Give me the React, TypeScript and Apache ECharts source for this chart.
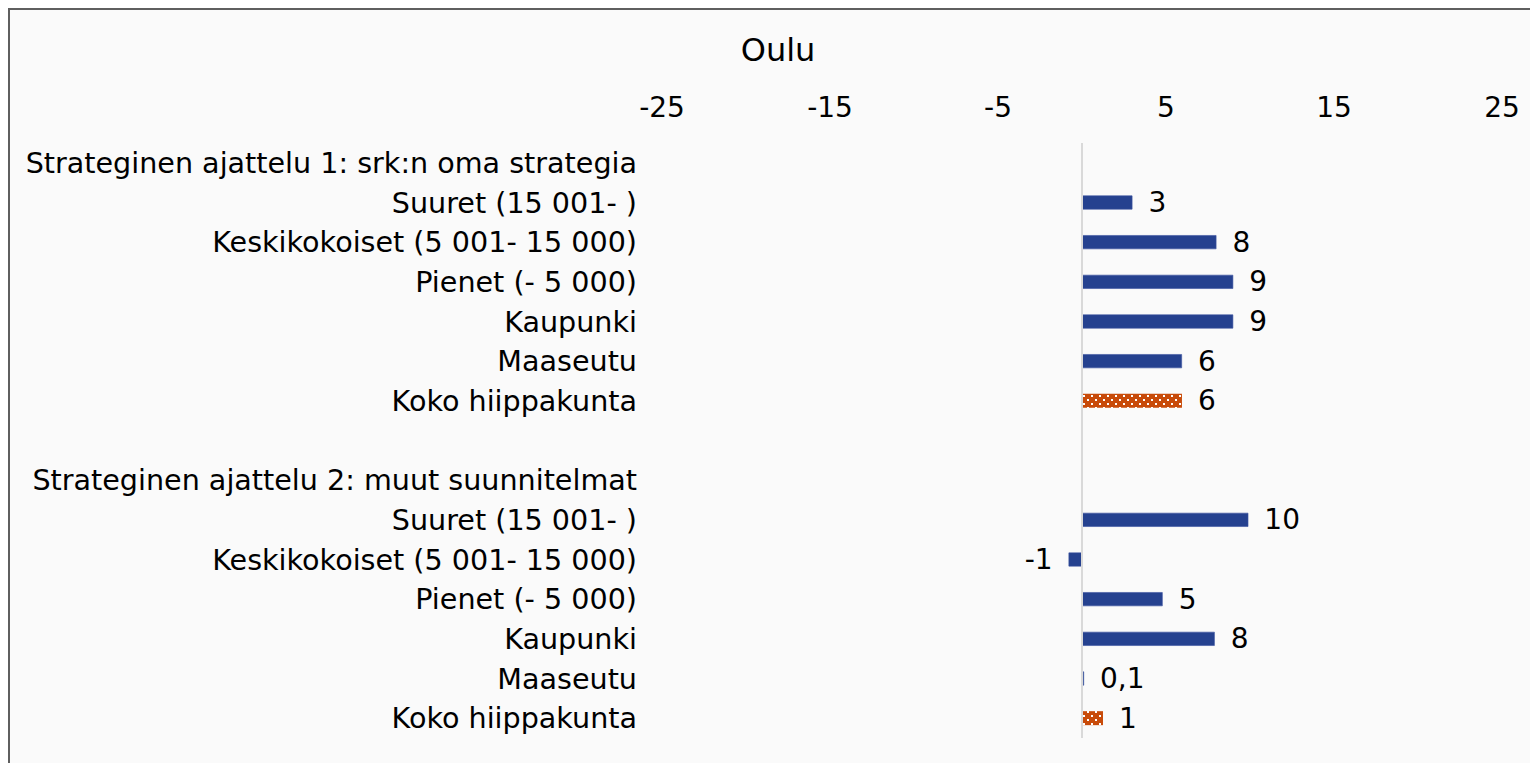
import React, { useEffect, useRef } from "react";
import * as echarts from "echarts";

const chartTitle = "Oulu";
const groupTitles = [
  "Strateginen ajattelu 1: srk:n oma strategia",
  "Strateginen ajattelu 2: muut suunnitelmat",
];
const subCategories = [
  "Suuret (15 001- )",
  "Keskikokoiset (5 001- 15 000)",
  "Pienet (- 5 000)",
  "Kaupunki",
  "Maaseutu",
  "Koko hiippakunta",
];
const group1Values = [3.0, 8.0, 9.0, 9.0, 5.95, 5.95];
const group2Values = [9.9, -0.8, 4.8, 7.9, 0.12, 1.25];
const tickValues = [-25, -15, -5, 5, 15, 25];
const axisMin = -25;
const axisMax = 25;

const BLUE = "#25418f";
const ORANGE = "#c84b0a";
const FONT = "DejaVu Sans";

function formatValue(v: number): string {
  if (Math.abs(v) < 0.5) return v.toFixed(1).replace(".", ",");
  return String(Math.round(v));
}

export default function App() {
  const ref = useRef<HTMLDivElement>(null);

  useEffect(() => {
    document.documentElement.style.overflow = "hidden";
    document.body.style.overflow = "hidden";
    if (!ref.current) return;
    const chart = echarts.init(ref.current, null, { renderer: "svg" });

    const c = document.createElement("canvas");
    c.width = 8;
    c.height = 8;
    const ctx = c.getContext("2d")!;
    ctx.fillStyle = ORANGE;
    ctx.fillRect(0, 0, 8, 8);
    ctx.fillStyle = "#ffffff";
    ctx.fillRect(1, 1, 2, 2);
    ctx.fillRect(5, 5, 2, 2);
    const patternFill: any = {
      image: c.toDataURL(),
      repeat: "repeat",
      imageWidth: 8,
      imageHeight: 8,
    };

    const categories = [
      groupTitles[0],
      ...subCategories,
      "",
      groupTitles[1],
      ...subCategories,
    ];

    const makeItems = (vals: number[]) =>
      vals.map((v, i) => ({
        value: v,
        itemStyle:
          i === vals.length - 1
            ? { color: patternFill }
            : { color: BLUE, borderColor: "#3a53a0", borderWidth: 0.6 },
        label: { position: v < 0 ? "left" : "right" },
      }));

    const data: any[] = [
      "-",
      ...makeItems(group1Values),
      "-",
      "-",
      ...makeItems(group2Values),
    ];

    chart.setOption({
      animation: false,
      backgroundColor: "#fafafa",
      textStyle: { fontFamily: FONT },
      title: {
        text: chartTitle,
        left: "center",
        top: 24,
        padding: 0,
        textStyle: {
          fontFamily: FONT,
          fontSize: 32,
          fontWeight: "normal",
          color: "#000",
        },
      },
      grid: { left: 652, right: 44, top: 133, bottom: 38, containLabel: false },
      xAxis: {
        type: "value",
        position: "top",
        min: axisMin,
        max: axisMax,
        splitLine: { show: false },
        axisLine: { show: false },
        axisTick: { show: false },
        axisLabel: {
          customValues: tickValues,
          fontFamily: FONT,
          fontSize: 28,
          color: "#000",
          margin: 22,
        },
      },
      yAxis: {
        type: "category",
        inverse: true,
        data: categories,
        axisLine: { show: false, onZero: false },
        axisTick: { show: false },
        splitLine: { show: false },
        axisLabel: {
          fontFamily: FONT,
          fontSize: 28.6,
          color: "#000",
          margin: 25,
          interval: 0,
        },
      },
      series: [
        {
          type: "bar",
          data,
          barWidth: 14,
          label: {
            show: true,
            distance: 16,
            fontFamily: FONT,
            fontSize: 28,
            color: "#000",
            formatter: (p: any) => formatValue(p.value),
          },
          markLine: {
            silent: true,
            symbol: "none",
            label: { show: false },
            lineStyle: { color: "#d9d9d9", width: 2, type: "solid" },
            data: [{ xAxis: 0 }],
          },
        },
      ],
    });

    return () => chart.dispose();
  }, []);

  return (
    <div
      style={{
        width: 1540,
        height: 770,
        border: "2px solid #5f5f5f",
        boxSizing: "border-box",
        background: "#fafafa",
      }}
    >
      <div ref={ref} style={{ width: 1536, height: 766 }} />
    </div>
  );
}
